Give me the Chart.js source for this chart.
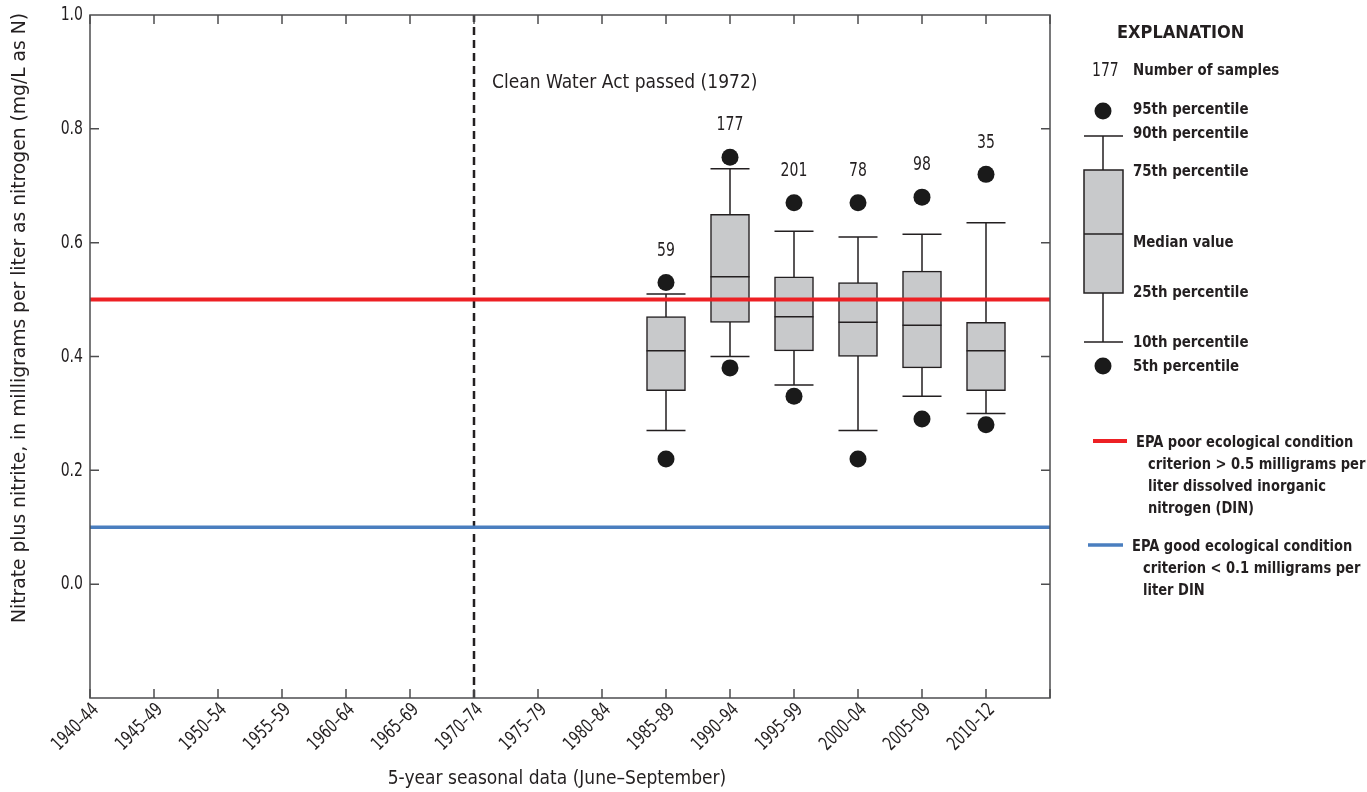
<!DOCTYPE html>
<html>
<head>
<meta charset="utf-8">
<title>Nitrate plus nitrite, 5-year seasonal data</title>
<script src="https://cdn.jsdelivr.net/npm/chart.js@4.4.1/dist/chart.umd.min.js"></script>
<style>
  html, body { margin: 0; padding: 0; background: #fff; }
  #wrap { width: 1367px; height: 792px; position: relative; }
</style>
</head>
<body>
<div id="wrap"><canvas id="chart" width="1367" height="792"></canvas></div>
<script>
// 5-year periods along the x axis
const periods = ['1940–44', '1945–49', '1950–54', '1955–59', '1960–64', '1965–69', '1970–74',
  '1975–79', '1980–84', '1985–89', '1990–94', '1995–99', '2000–04', '2005–09', '2010–12'];

// periods with samples, and their summary statistics (mg/L as N)
const sampledPeriods = ['1985–89', '1990–94', '1995–99', '2000–04', '2005–09', '2010–12'];
const sampleCounts = [59, 177, 201, 78, 98, 35];
const pct5   = [0.22, 0.38, 0.33, 0.22, 0.29, 0.28];
const pct10  = [0.27, 0.40, 0.35, 0.27, 0.33, 0.30];
const pct25  = [0.34, 0.46, 0.41, 0.40, 0.38, 0.34];
const median = [0.41, 0.54, 0.47, 0.46, 0.455, 0.41];
const pct75  = [0.47, 0.65, 0.54, 0.53, 0.55, 0.46];
const pct90  = [0.51, 0.73, 0.62, 0.61, 0.615, 0.635];
const pct95  = [0.53, 0.75, 0.67, 0.67, 0.68, 0.72];

// EPA criteria and the Clean Water Act marker
const poorLimit = 0.5;
const goodLimit = 0.1;
const actPeriod = '1970–74';

const yMin = -0.2, yMax = 1.0, yStep = 0.2;

const FONT = '"DejaVu Sans Condensed", "DejaVu Sans", sans-serif';
const INK = '#231f20';
Chart.defaults.font.family = FONT;
Chart.defaults.color = INK;

const xOf = p => periods.indexOf(p);

// fillText with an optional horizontal squeeze, so numbers look condensed
function label(ctx, text, x, y, size, opts = {}) {
  const { weight = 'normal', align = 'left', squeeze = 1, angle = 0 } = opts;
  ctx.save();
  ctx.translate(x, y);
  if (angle) ctx.rotate(angle);
  ctx.scale(squeeze, 1);
  ctx.font = `${weight} ${size}px ${FONT}`;
  ctx.textAlign = align;
  ctx.textBaseline = 'middle';
  ctx.fillText(text, 0, 0);
  ctx.restore();
}

const NUM = 0.78;   // squeeze for digits

const boxExtras = {
  id: 'boxExtras',
  // whiskers go under the boxes
  beforeDatasetsDraw(chart) {
    const { ctx, scales: { x, y } } = chart;
    const boxes = chart.getDatasetMeta(4).data;
    ctx.save();
    ctx.strokeStyle = INK;
    ctx.lineWidth = 1.5;
    sampledPeriods.forEach((p, i) => {
      const px = x.getPixelForValue(xOf(p));
      const half = boxes[i].width / 2;
      const lo = y.getPixelForValue(pct10[i]), hi = y.getPixelForValue(pct90[i]);
      ctx.beginPath();
      ctx.moveTo(px, lo); ctx.lineTo(px, hi);
      ctx.moveTo(px - half, lo); ctx.lineTo(px + half, lo);
      ctx.moveTo(px - half, hi); ctx.lineTo(px + half, hi);
      ctx.stroke();
    });
    ctx.restore();
  },
  // median lines and sample counts on top of the boxes
  afterDatasetDraw(chart, args) {
    if (args.index !== 4) return;
    const { ctx, scales: { x, y } } = chart;
    const boxes = args.meta.data;
    ctx.save();
    ctx.strokeStyle = INK;
    ctx.lineWidth = 1.5;
    ctx.fillStyle = INK;
    sampledPeriods.forEach((p, i) => {
      const px = x.getPixelForValue(xOf(p));
      const half = boxes[i].width / 2;
      const py = y.getPixelForValue(median[i]);
      ctx.beginPath();
      ctx.moveTo(px - half, py); ctx.lineTo(px + half, py);
      ctx.stroke();
      label(ctx, String(sampleCounts[i]), px, y.getPixelForValue(pct95[i]) - 32, 20,
        { align: 'center', squeeze: NUM });
    });
    ctx.restore();
  },
  afterDraw(chart) {
    const { ctx, chartArea: a, scales: { x, y } } = chart;
    ctx.save();
    // frame and inward tick marks
    ctx.strokeStyle = '#4d4d4f';
    ctx.lineWidth = 1.5;
    ctx.strokeRect(a.left, a.top, a.right - a.left, a.bottom - a.top);
    ctx.beginPath();
    for (let v = 0; v <= periods.length; v++) {
      const px = x.getPixelForValue(v);
      ctx.moveTo(px, a.bottom); ctx.lineTo(px, a.bottom - 9);
      ctx.moveTo(px, a.top); ctx.lineTo(px, a.top + 9);
    }
    y.ticks.forEach(t => {
      if (t.value <= yMin || t.value >= yMax) return;
      const py = y.getPixelForValue(t.value);
      ctx.moveTo(a.left, py); ctx.lineTo(a.left + 9, py);
      ctx.moveTo(a.right, py); ctx.lineTo(a.right - 9, py);
    });
    ctx.stroke();

    ctx.fillStyle = INK;
    // tick labels
    y.ticks.forEach(t => {
      if (t.value < yMin + yStep / 2) return;
      const txt = (Math.round(t.value * 10) / 10).toFixed(1);
      label(ctx, txt, a.left - 7, y.getPixelForValue(t.value), 20, { align: 'right', squeeze: NUM });
    });
    periods.forEach((p, i) => {
      label(ctx, p, x.getPixelForValue(i) + 6, a.bottom + 9, 19,
        { align: 'right', squeeze: 0.78, angle: -Math.PI / 4 });
    });

    label(ctx, 'Clean Water Act passed (1972)', x.getPixelForValue(xOf(actPeriod)) + 18, a.top + 68, 19);

    // axis titles
    label(ctx, '5-year seasonal data (June–September)', 557, 779, 19, { align: 'center' });
    label(ctx, 'Nitrate plus nitrite, in milligrams per liter as nitrogen (mg/L as N)', 20, 318, 20,
      { align: 'center', squeeze: 1.04, angle: -Math.PI / 2 });

    // explanation
    label(ctx, 'EXPLANATION', 1117, 33, 18, { weight: 'bold' });
    label(ctx, '177', 1092, 71, 20, { squeeze: NUM });
    const rows = [['Number of samples', 71], ['95th percentile', 110], ['90th percentile', 134],
      ['75th percentile', 172], ['Median value', 243], ['25th percentile', 293],
      ['10th percentile', 343], ['5th percentile', 367]];
    rows.forEach(([t, ty]) => label(ctx, t, 1133, ty, 16.5, { weight: 'bold', squeeze: 0.9 }));

    ctx.fillStyle = '#1a1a1a';
    [111, 366].forEach(cy => { ctx.beginPath(); ctx.arc(1103, cy, 8.5, 0, Math.PI * 2); ctx.fill(); });
    ctx.strokeStyle = INK;
    ctx.lineWidth = 1.5;
    ctx.beginPath();
    ctx.moveTo(1103, 136); ctx.lineTo(1103, 342);
    ctx.moveTo(1084, 136); ctx.lineTo(1123, 136);
    ctx.moveTo(1084, 342); ctx.lineTo(1123, 342);
    ctx.stroke();
    ctx.fillStyle = '#c8c9cb';
    ctx.fillRect(1084, 170, 39, 123);
    ctx.strokeRect(1084, 170, 39, 123);
    ctx.beginPath();
    ctx.moveTo(1084, 234); ctx.lineTo(1123, 234);
    ctx.stroke();

    ctx.lineWidth = 4;
    ctx.strokeStyle = '#ed2024';
    ctx.beginPath(); ctx.moveTo(1093, 441); ctx.lineTo(1127, 441); ctx.stroke();
    ctx.strokeStyle = '#4a7ebf';
    ctx.lineWidth = 3.5;
    ctx.beginPath(); ctx.moveTo(1088, 545); ctx.lineTo(1123, 545); ctx.stroke();

    ctx.fillStyle = INK;
    const epa = [['EPA poor ecological condition', 1136, 443], ['criterion > 0.5 milligrams per', 1148, 465],
      ['liter dissolved inorganic', 1148, 487], ['nitrogen (DIN)', 1148, 509],
      ['EPA good ecological condition', 1132, 547], ['criterion < 0.1 milligrams per', 1143, 569],
      ['liter DIN', 1143, 591]];
    epa.forEach(([t, tx, ty]) => label(ctx, t, tx, ty, 16.5, { weight: 'bold', squeeze: 0.88 }));
    ctx.restore();
  }
};

const ctx = document.getElementById('chart');

new Chart(ctx, {
  type: 'bar',
  data: {
    datasets: [
      {
        type: 'line',
        label: 'EPA poor ecological condition',
        data: [{ x: 0, y: poorLimit }, { x: periods.length, y: poorLimit }],
        borderColor: '#ed2024',
        borderWidth: 4,
        pointRadius: 0,
        order: 0
      },
      {
        type: 'line',
        label: 'EPA good ecological condition',
        data: [{ x: 0, y: goodLimit }, { x: periods.length, y: goodLimit }],
        borderColor: '#4a7ebf',
        borderWidth: 3.5,
        pointRadius: 0,
        order: 0
      },
      {
        type: 'line',
        label: 'Clean Water Act passed (1972)',
        data: [{ x: xOf(actPeriod), y: yMin }, { x: xOf(actPeriod), y: yMax }],
        borderColor: INK,
        borderWidth: 2.5,
        borderDash: [8, 5],
        pointRadius: 0,
        order: 0
      },
      {
        type: 'scatter',
        label: '5th and 95th percentiles',
        data: sampledPeriods.flatMap((p, i) => [{ x: xOf(p), y: pct95[i] }, { x: xOf(p), y: pct5[i] }]),
        pointRadius: 8.5,
        pointBackgroundColor: '#1a1a1a',
        pointBorderWidth: 0,
        order: 1
      },
      {
        type: 'bar',
        label: '25th to 75th percentile',
        data: sampledPeriods.map((p, i) => ({ x: xOf(p), y: [pct25[i], pct75[i]] })),
        backgroundColor: '#c8c9cb',
        borderColor: INK,
        borderWidth: 1.5,
        borderSkipped: false,
        barThickness: 39,
        order: 2
      }
    ]
  },
  options: {
    responsive: false,
    animation: false,
    layout: { padding: { left: 0, top: 15, right: 317, bottom: 0 } },
    plugins: { legend: { display: false }, tooltip: { enabled: false } },
    scales: {
      x: {
        type: 'linear',
        min: 0,
        max: periods.length,
        offset: false,
        grid: { display: false, drawTicks: false },
        border: { display: false },
        afterFit: s => { s.height = 94; },
        ticks: { display: false, stepSize: 1 }
      },
      y: {
        min: yMin,
        max: yMax,
        grid: { display: false, drawTicks: false },
        border: { display: false },
        afterFit: s => { s.width = 90; },
        ticks: { display: false, stepSize: yStep }
      }
    }
  },
  plugins: [boxExtras]
});
</script>
</body>
</html>
